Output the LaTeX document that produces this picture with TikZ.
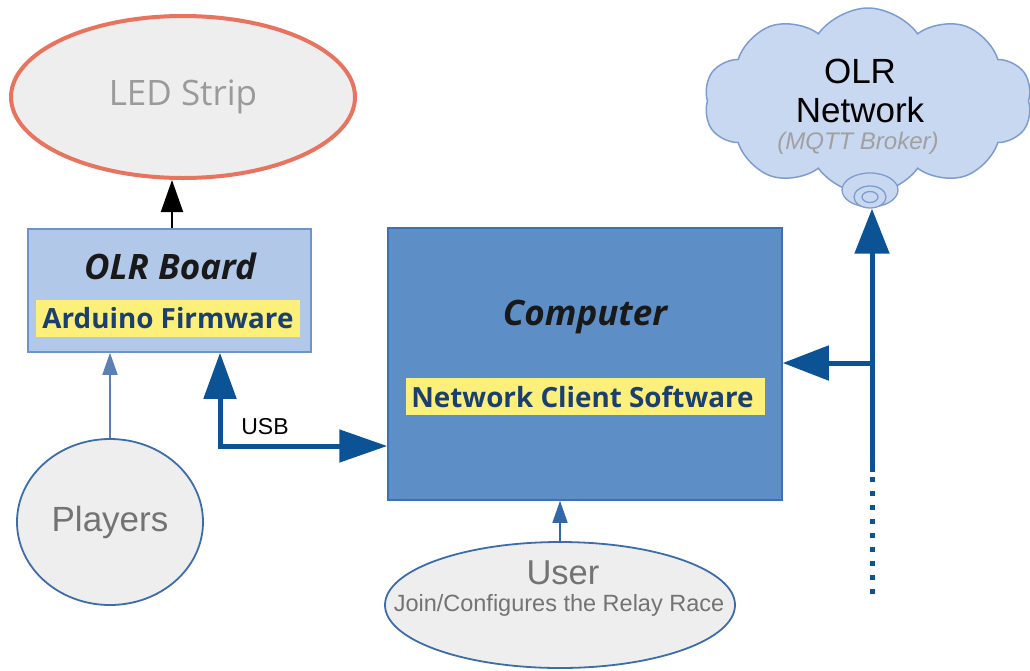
\documentclass[tikz,border=0pt]{standalone}
\usepackage{fontspec}
\setmainfont{Liberation Sans}
\newfontfamily\osans{Open Sans}
\usetikzlibrary{arrows.meta,shapes.geometric,shapes.symbols}

\definecolor{ledline}{HTML}{E8735F}
\definecolor{softgrey}{HTML}{EEEEEE}
\definecolor{ledtext}{HTML}{9A9A9A}
\definecolor{ovalline}{HTML}{3D6CAA}
\definecolor{ovaltext}{HTML}{737373}
\definecolor{boardfill}{HTML}{B2C8E8}
\definecolor{boardline}{HTML}{6D93CC}
\definecolor{compfill}{HTML}{5D8FC6}
\definecolor{compline}{HTML}{3C72B4}
\definecolor{tagfill}{HTML}{FCEF7A}
\definecolor{tagtext}{HTML}{1B3F6E}
\definecolor{wire}{HTML}{0B5394}
\definecolor{thinwire}{HTML}{5A80B8}
\definecolor{userwire}{HTML}{3467AA}
\definecolor{cloudfill}{HTML}{C9D8F1}
\definecolor{cloudline}{HTML}{7E9CCE}
\definecolor{brokertext}{HTML}{A0A0A0}

\tikzset{
  oval/.style={ellipse, draw=ovalline, line width=1.8pt, fill=softgrey, inner sep=0pt},
  unit/.style={rectangle, inner sep=0pt},
  tag/.style={rectangle, fill=tagfill, inner sep=0pt, text=tagtext,
    font=\osans\bfseries\fontsize{27.8}{30}\selectfont},
  title/.style={font=\osans\bfseries\itshape\fontsize{35}{38}\selectfont, text=black!90},
  bigwire/.style={draw=wire, line width=5pt},
  thinarrow/.style={line width=1.6pt, -{Triangle[length=22pt,width=15pt]}},
}

\begin{document}
\begin{tikzpicture}[x=1pt,y=-1pt]
\useasboundingbox (0,0) rectangle (1030,670);

% LED strip
\node[ellipse, draw=ledline, line width=4pt, fill=softgrey, inner sep=0pt,
  minimum width=344pt, minimum height=162pt, text=ledtext,
  font=\osans\fontsize{35}{38}\selectfont] (led) at (183,97) {LED Strip};

% OLR board
\node[unit, fill=boardfill, draw=boardline, line width=1.5pt,
  minimum width=283pt, minimum height=123pt] (board) at (169.5,290.5) {};
\node[title] (boardname) at (170,266) {OLR Board};
\node[tag, minimum width=264pt, minimum height=37pt] (firmware) at (168,318.5) {Arduino Firmware};

% Computer
\node[unit, fill=compfill, draw=compline, line width=1.5pt,
  minimum width=394pt, minimum height=272pt] (comp) at (585,364) {};
\node[title] (compname) at (585,317) {Computer};
\node[tag, minimum width=359pt, minimum height=37pt] (client) at (585.5,396.5) {\hspace*{-6pt}Network Client Software};

% Players and user
\node[oval, minimum width=186pt, minimum height=166pt, text=ovaltext,
  font=\fontsize{35}{38}\selectfont] (players) at (110,522) {Players};
\node[oval, minimum width=350pt, minimum height=126pt] (user) at (560,605) {};
\node[text=ovaltext, font=\fontsize{34.5}{38}\selectfont] (username) at (563,573) {User};
\node[text=ovaltext, font=\fontsize{23.5}{26}\selectfont] (userrole) at (559,605) {Join/Configures the Relay Race};

% OLR network cloud
\node[cloud, cloud puffs=10, cloud puff arc=110, cloud ignores aspect,
  draw=cloudline, line width=1.5pt, fill=cloudfill,
  minimum width=328pt, minimum height=186pt] (net) at (868,101) {};
\node[font=\fontsize{35}{38}\selectfont] (netname1) at (860,71) {OLR};
\node[font=\fontsize{35}{38}\selectfont] (netname2) at (860,110) {Network};
\node[text=brokertext, font=\itshape\fontsize{24}{28}\selectfont] (broker) at (858,143) {(MQTT Broker)};

% network port at the bottom of the cloud
\node[ellipse, draw=cloudline, line width=1.3pt, fill=cloudfill, inner sep=0pt,
  minimum width=56pt, minimum height=34pt] (portbase) at (870,190) {};
\node[ellipse, draw=cloudline, line width=1.3pt, fill=cloudfill, inner sep=0pt,
  minimum width=32pt, minimum height=22pt] (port) at (870,197) {};
\node[ellipse, draw=cloudline, line width=1.3pt, fill=cloudfill, inner sep=0pt,
  minimum width=16pt, minimum height=11pt] (portcore) at (870,197) {};

% connectors
\coordinate (ledx) at (172,0);
\draw[line width=2pt, -{Triangle[length=32pt,width=22pt]}] (board.north -| ledx) -- (led.south -| ledx);

\draw[thinarrow, draw=thinwire, fill=thinwire] (players.north) -- (board.south -| players.north);
\draw[thinarrow, draw=userwire, fill=userwire] (user.north) -- (comp.south -| user.north);

\coordinate (usbx) at (220,446);
\draw[bigwire, {Triangle[length=46pt,width=32pt]}-{Triangle[length=48pt,width=32pt]}]
  (board.south -| usbx) -- (usbx) -- (comp.west |- usbx);
\node[font=\fontsize{23}{26}\selectfont] (usb) at (265,427) {USB};

\coordinate (netfoot) at (872,472);
\coordinate (tap) at (872,363);
\draw[bigwire, -{Triangle[length=45pt,width=34pt]}] (netfoot) -- (port.south -| netfoot);
\draw[bigwire, -{Triangle[length=46pt,width=34pt]}] (tap) -- (comp.east |- tap);
\coordinate (dotend) at (872,600);
\draw[draw=wire, line width=5pt, dash pattern=on 5pt off 9pt] ([yshift=9pt]netfoot) -- (dotend);
\end{tikzpicture}
\end{document}
